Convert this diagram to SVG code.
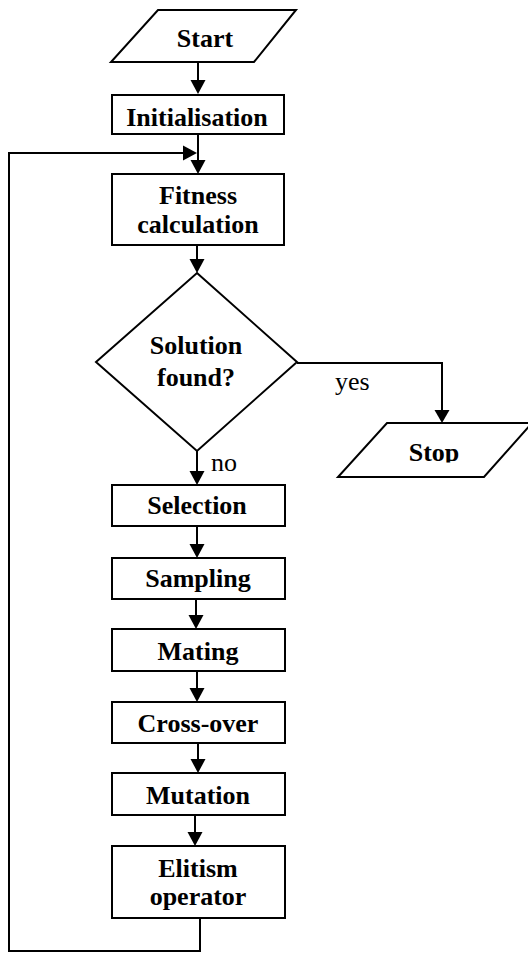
<svg xmlns="http://www.w3.org/2000/svg" width="528" height="953" viewBox="0 0 528 953">
<style>
.s{fill:#fff;stroke:#000;stroke-width:2}
.t{font-family:"Liberation Serif","Times New Roman",serif;font-size:26px;font-weight:bold;text-anchor:middle;fill:#000}
.l{font-family:"Liberation Serif","Times New Roman",serif;font-size:26px;fill:#000}
.c{fill:none;stroke:#000;stroke-width:2}
.h{fill:#000;stroke:none}
</style>
<defs>
<clipPath id="stopclip"><rect x="330" y="420" width="198" height="42.5"/></clipPath>
</defs>
<rect width="528" height="953" fill="#fff"/>
<g id="connectors">
<line class="c" x1="198" y1="62" x2="198" y2="82"/>
<polygon class="h" points="190.5,80 205.5,80 198,94"/>
<line class="c" x1="198" y1="134" x2="198" y2="162"/>
<polygon class="h" points="190.5,160 205.5,160 198,174"/>
<polyline class="c" points="200,918 200,951 9,951 9,153 185,153"/>
<polygon class="h" points="183,145.5 183,160.5 197,153"/>
<line class="c" x1="197" y1="245" x2="197" y2="261"/>
<polygon class="h" points="189.5,259 204.5,259 197,273"/>
<polyline class="c" points="297,363 442,363 442,412"/>
<polygon class="h" points="434.5,410 449.5,410 442,423"/>
<text class="l" x="335" y="390">yes</text>
<line class="c" x1="197" y1="451" x2="197" y2="473"/>
<polygon class="h" points="189.5,471 204.5,471 197,485"/>
<text class="l" x="211" y="471">no</text>
<line class="c" x1="197" y1="526" x2="197" y2="546"/>
<polygon class="h" points="189.5,544 204.5,544 197,558"/>
<line class="c" x1="196" y1="599" x2="196" y2="617"/>
<polygon class="h" points="188.5,615 203.5,615 196,629"/>
<line class="c" x1="197" y1="671" x2="197" y2="690"/>
<polygon class="h" points="189.5,688 204.5,688 197,702"/>
<line class="c" x1="198" y1="743" x2="198" y2="761"/>
<polygon class="h" points="190.5,759 205.5,759 198,773"/>
<line class="c" x1="195" y1="815" x2="195" y2="834"/>
<polygon class="h" points="187.5,832 202.5,832 195,846"/>
</g>
<g id="start">
<polygon class="s" points="158,10 296,10 254,62 111,62"/>
<text class="t" x="205" y="47">Start</text>
</g>
<g id="initialisation">
<rect class="s" x="112" y="95" width="172" height="39"/>
<text class="t" x="197" y="126">Initialisation</text>
</g>
<g id="fitness">
<rect class="s" x="112" y="174" width="172" height="71"/>
<text class="t" x="198" y="204">Fitness</text>
<text class="t" x="198" y="233">calculation</text>
</g>
<g id="decision">
<polygon class="s" points="197,273 297,362 197,451 96,362"/>
<text class="t" x="196" y="354">Solution</text>
<text class="t" x="196" y="386">found?</text>
</g>
<g id="stop">
<polygon class="s" points="387,423 532,423 484,477 338,477"/>
<text class="t" x="434" y="461" clip-path="url(#stopclip)">Stop</text>
</g>
<g id="selection">
<rect class="s" x="112" y="485" width="173" height="41"/>
<text class="t" x="197" y="514">Selection</text>
</g>
<g id="sampling">
<rect class="s" x="112" y="558" width="173" height="41"/>
<text class="t" x="198" y="587">Sampling</text>
</g>
<g id="mating">
<rect class="s" x="112" y="629" width="173" height="42"/>
<text class="t" x="198" y="660">Mating</text>
</g>
<g id="crossover">
<rect class="s" x="112" y="702" width="173" height="41"/>
<text class="t" x="198" y="732">Cross-over</text>
</g>
<g id="mutation">
<rect class="s" x="112" y="773" width="173" height="42"/>
<text class="t" x="198" y="804">Mutation</text>
</g>
<g id="elitism">
<rect class="s" x="112" y="846" width="173" height="72"/>
<text class="t" x="198" y="877">Elitism</text>
<text class="t" x="198" y="905">operator</text>
</g>
</svg>
